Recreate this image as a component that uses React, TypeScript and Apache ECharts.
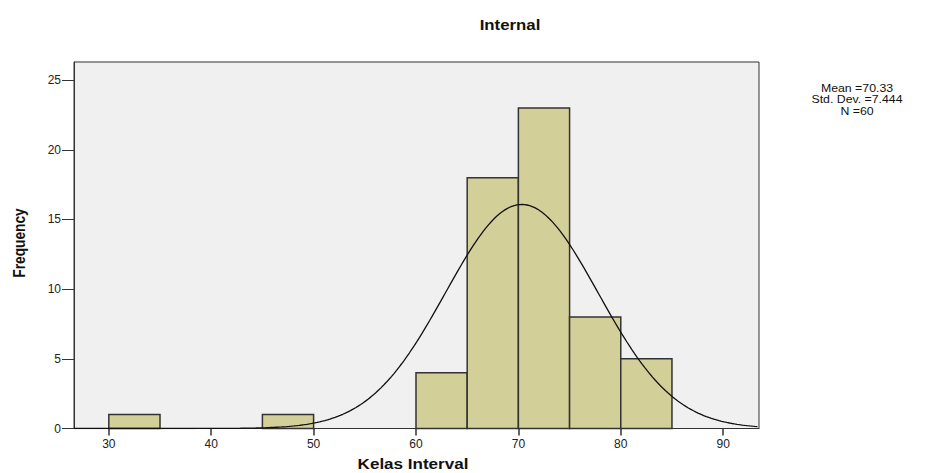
import React, { useEffect, useRef } from "react";
import * as echarts from "echarts";

const title = "Internal";
const xAxisName = "Kelas Interval";
const yAxisName = "Frequency";
const binStarts = [30, 45, 60, 65, 70, 75, 80];
const binWidth = 5;
const frequencies = [1, 1, 4, 18, 23, 8, 5];
const xTicks = [30, 40, 50, 60, 70, 80, 90];
const yTicks = [0, 5, 10, 15, 20, 25];
const statMean = 70.33;
const statSd = 7.444;
const statN = 60;
const statLines = ["Mean =70.33", "Std. Dev. =7.444", "N =60"];

const X_MIN = 26.6;
const X_MAX = 93.5;
const Y_MAX = 26.3;

function normalCurve(): number[][] {
  const pts: number[][] = [];
  const k = (statN * binWidth) / (statSd * Math.sqrt(2 * Math.PI));
  for (let x = X_MIN; x <= X_MAX + 1e-9; x += 0.25) {
    const z = (x - statMean) / statSd;
    pts.push([x, k * Math.exp(-0.5 * z * z)]);
  }
  return pts;
}

export default function App() {
  const ref = useRef<HTMLDivElement>(null);
  useEffect(() => {
    if (!ref.current) return;
    const chart = echarts.init(ref.current, undefined, { renderer: "svg" });
    const barData = binStarts.map((s, i) => [s, s + binWidth, frequencies[i]]);
    const font = "'Liberation Sans', Arial, sans-serif";
    const statTexts = statLines.map((t, i) => ({
      type: "text",
      x: 857,
      y: 88 + i * 11.2,
      scaleX: 1.12,
      style: {
        text: t,
        x: 0,
        y: 0,
        fontFamily: font,
        fontSize: 11,
        fill: "#111",
        align: "center",
        verticalAlign: "middle",
      },
    }));
    chart.setOption({
      animation: false,
      backgroundColor: "#ffffff",
      grid: {
        left: 74,
        right: 185,
        top: 62,
        bottom: 44.5,
        show: true,
        backgroundColor: "#f0f0f0",
        borderColor: "#333",
        borderWidth: 1,
      },
      xAxis: {
        type: "value",
        min: X_MIN,
        max: X_MAX,
        axisLine: { show: true, lineStyle: { color: "#333", width: 1 } },
        axisTick: { show: true, length: 7, customValues: xTicks, lineStyle: { color: "#333", width: 1.5 } },
        axisLabel: { customValues: xTicks, fontFamily: font, fontSize: 12, color: "#222", margin: 9 },
        splitLine: { show: false },
      },
      yAxis: {
        type: "value",
        min: 0,
        max: Y_MAX,
        axisLine: { show: true, lineStyle: { color: "#333", width: 1 } },
        axisTick: { show: true, length: 12, customValues: yTicks, lineStyle: { color: "#333", width: 1 } },
        axisLabel: { customValues: yTicks, fontFamily: font, fontSize: 12, color: "#222", margin: 13 },
        splitLine: { show: false },
      },
      graphic: [
        {
          type: "text",
          x: 510,
          y: 25,
          scaleX: 1.2,
          style: {
            text: title,
            x: 0,
            y: 0,
            fontFamily: font,
            fontWeight: "bold",
            fontSize: 14,
            fill: "#111",
            align: "center",
            verticalAlign: "middle",
          },
        },
        {
          type: "text",
          x: 413,
          y: 463,
          scaleX: 1.1,
          style: {
            text: xAxisName,
            x: 0,
            y: 0,
            fontFamily: font,
            fontWeight: "bold",
            fontSize: 15.5,
            fill: "#111",
            align: "center",
            verticalAlign: "middle",
          },
        },
        {
          type: "text",
          x: 19,
          y: 243,
          rotation: Math.PI / 2,
          scaleX: 0.86,
          style: {
            text: yAxisName,
            x: 0,
            y: 0,
            fontFamily: font,
            fontWeight: "bold",
            fontSize: 16,
            fill: "#111",
            align: "center",
            verticalAlign: "middle",
          },
        },
        ...statTexts,
      ],
      series: [
        {
          type: "custom",
          data: barData,
          encode: { x: [0, 1], y: 2 },
          renderItem: (params: any, api: any) => {
            const x0 = api.value(0);
            const x1 = api.value(1);
            const y = api.value(2);
            const p0 = api.coord([x0, y]);
            const p1 = api.coord([x1, 0]);
            return {
              type: "rect",
              shape: { x: p0[0], y: p0[1], width: p1[0] - p0[0], height: p1[1] - p0[1] },
              style: { fill: "#d3cf98", stroke: "#333", lineWidth: 1.5 },
            };
          },
          z: 2,
        },
        {
          type: "line",
          data: normalCurve(),
          showSymbol: false,
          smooth: false,
          lineStyle: { color: "#111", width: 1.3 },
          z: 3,
        },
      ],
    });
    return () => chart.dispose();
  }, []);
  return (
    <div
      ref={ref}
      style={{ position: "fixed", left: 0, top: 0, width: 944, height: 473 }}
    />
  );
}
